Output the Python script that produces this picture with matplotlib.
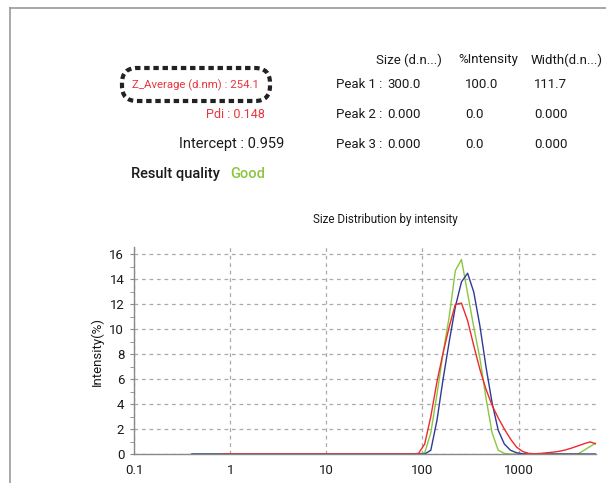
import matplotlib
matplotlib.use("Agg")
import matplotlib.pyplot as plt
import numpy as np
from matplotlib.patches import FancyBboxPatch
from matplotlib.lines import Line2D
from matplotlib.transforms import IdentityTransform

plt.rcParams['font.family'] = ['Roboto', 'DejaVu Sans']

# size bins (d.nm) of the distribution
sizes = [0.4, 0.83, 78.82, 91.28, 105.7, 122.4, 141.8, 164.2, 190.1, 220.2, 255.0,
         295.3, 342.0, 396.1, 458.7, 531.2, 615.1, 712.4, 825.0, 955.4, 1106, 1281,
         1484, 1718, 1990, 2305, 2669, 3091, 3580, 4145, 4801, 5560, 6439]

# intensity (%) of the three runs
green_run = [0, 0, 0, 0, 0.1, 1.7, 4.8, 8.1, 11.0, 14.7, 15.6,
             12.9, 10.2, 7.7, 4.5, 1.7, 0.3, 0.05, 0, 0, 0, 0,
             0, 0, 0, 0, 0, 0, 0, 0, 0.3, 0.6, 0.9]
blue_run = [0, 0, 0, 0, 0, 0.3, 2.7, 6.0, 9.0, 11.8, 13.8,
            14.5, 13.0, 10.3, 7.0, 4.1, 1.9, 0.8, 0.3, 0.1, 0.02, 0,
            0, 0, 0, 0, 0, 0, 0, 0, 0, 0, 0]
red_run = [np.nan, 0, 0, 0.05, 0.8, 3.0, 5.8, 8.1, 10.2, 12.0, 12.1,
           10.7, 8.7, 6.8, 5.2, 3.9, 2.9, 2.0, 1.2, 0.55, 0.2, 0.05,
           0.02, 0.05, 0.1, 0.15, 0.22, 0.33, 0.48, 0.65, 0.82, 0.97, 0.8]

# result table
headers = ["Size (d.n...)", "%Intensity", "Width(d.n...)"]
peak_names = ["Peak 1 :", "Peak 2 :", "Peak 3 :"]
peak_size = ["300.0", "0.000", "0.000"]
peak_int = ["100.0", "0.0", "0.0"]
peak_width = ["111.7", "0.000", "0.000"]

W, H = 606, 483
fig = plt.figure(figsize=(W / 100, H / 100), dpi=100)

def fx(px):
    return px / W

def fy(py):
    # py measured from top of image
    return 1 - py / H

# outer frame (top and left edges)
frame_col = '#999999'
fig.add_artist(Line2D([fx(10), 1], [fy(8), fy(8)], color=frame_col, lw=1.2, transform=fig.transFigure))
fig.add_artist(Line2D([fx(10), fx(10)], [fy(8), 0], color=frame_col, lw=1.2, transform=fig.transFigure))

red = '#e8343c'
green = '#8cc63f'
txt = '#1a1a1a'

# table header
fs = 9.5
fig.text(fx(376), fy(60), headers[0], fontsize=fs, color=txt, va='center')
fig.text(fx(458), fy(60), headers[1], fontsize=fs, color=txt, va='center')
fig.text(fx(531), fy(60), headers[2], fontsize=fs, color=txt, va='center')

row_y = [85, 115, 144]
for i in range(3):
    fig.text(fx(336), fy(row_y[i]), peak_names[i], fontsize=fs, color=txt, va='center')
    fig.text(fx(387), fy(row_y[i]), peak_size[i], fontsize=fs, color=txt, va='center')
    fig.text(fx(465), fy(row_y[i]), peak_int[i], fontsize=fs, color=txt, va='center')
    fig.text(fx(534), fy(row_y[i]), peak_width[i], fontsize=fs, color=txt, va='center')

# left-side summary
fig.text(fx(259), fy(85), "Z_Average (d.nm) : 254.1", fontsize=8.2, color=red, va='center', ha='right')
fig.text(fx(265), fy(115), "Pdi : 0.148", fontsize=9, color=red, va='center', ha='right')
fig.text(fx(284), fy(144), "Intercept : 0.959", fontsize=10.5, color=txt, va='center', ha='right')
fig.text(fx(131), fy(174), "Result quality", fontsize=10.5, color=txt, va='center', fontweight='medium')
fig.text(fx(230), fy(174), "Good", fontsize=10.5, color=green, va='center', fontweight='medium')

# dashed rounded box around the Z average
box = FancyBboxPatch((122, H - 101), 148, 33, boxstyle="round,pad=0,rounding_size=15",
                     transform=IdentityTransform(), fill=False, edgecolor='#222222',
                     lw=3, linestyle=(0, (1.3, 0.9)))
fig.add_artist(box)

# chart title
fig.text(fx(385), fy(219), "Size Distribution by intensity", fontsize=8.4, color=txt,
         ha='center', va='center')

# plot
ax = fig.add_axes([fx(134), fy(454), fx(596) - fx(134), fy(247) - fy(454)])
ax.plot(sizes, green_run, color=green, lw=1)
ax.plot(sizes, blue_run, color='#2e3a98', lw=1)
ax.plot(sizes, red_run, color='#ee2a2a', lw=1)

ax.set_xscale('log')
ax.set_xlim(0.1, 6400)
ax.set_ylim(0, 16.6)
ax.set_xticks([0.1, 1, 10, 100, 1000])
ax.set_xticklabels(["0.1", "1", "10", "100", "1000"])
ax.xaxis.set_minor_locator(matplotlib.ticker.NullLocator())
ax.set_yticks(np.arange(0, 17, 2))
ax.set_yticks(np.arange(1, 17, 2), minor=True)

axis_col = '#888888'
for s in ['top', 'right']:
    ax.spines[s].set_visible(False)
for s in ['left', 'bottom']:
    ax.spines[s].set_color(axis_col)
    ax.spines[s].set_linewidth(1)

ax.tick_params(axis='x', length=0, pad=7, labelsize=9.5, labelcolor=txt)
ax.tick_params(axis='y', which='major', length=3, color=axis_col, pad=4, labelsize=9.5, labelcolor=txt)
ax.tick_params(axis='y', which='minor', length=3, color=axis_col)

ax.grid(True, which='major', color='#aaaaaa', linestyle=(0, (3, 3)), lw=0.9)
ax.set_axisbelow(True)

fig.text(fx(97), fy(352), "Intensity(%)", fontsize=9.5, color=txt, rotation=90,
         ha='center', va='center')

fig.savefig("out.png", dpi=100)
